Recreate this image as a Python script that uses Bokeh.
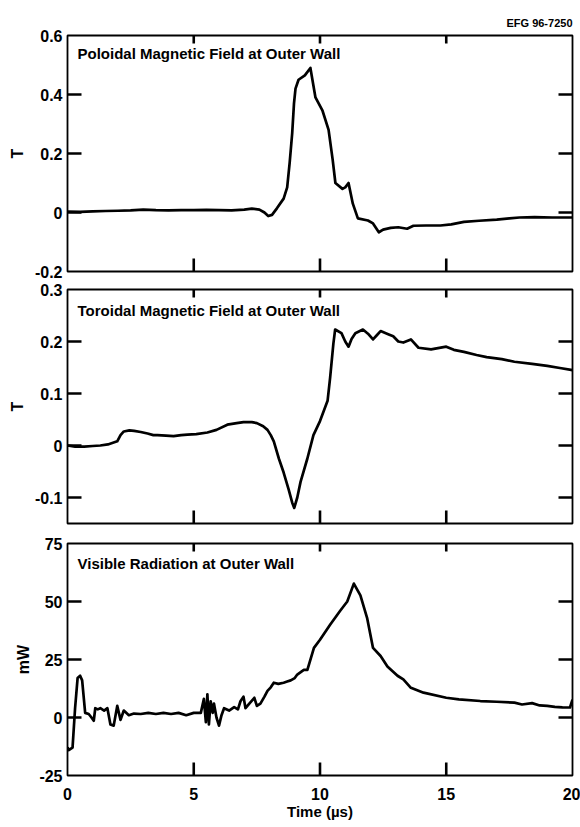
from bokeh.plotting import figure
from bokeh.models import Range1d, FixedTicker, Label
from bokeh.layouts import column
from bokeh.embed import file_html
from bokeh.resources import INLINE

# ---------------- data ----------------
x_lo, x_hi = 0, 20
x_ticks = [0, 5, 10, 15, 20]
x_tick_labels = ["0", "5", "10", "15", "20"]

pol_t = [0, 0.5, 1.0, 1.5, 2.0, 2.5, 3.0, 3.5, 4.0, 4.5, 5.0, 5.5, 6.0, 6.5, 7.0, 7.3, 7.6, 7.8,
         7.95, 8.1, 8.3, 8.56, 8.7, 8.8, 8.9, 8.97, 9.03, 9.15, 9.4, 9.62, 9.82, 10.1, 10.34,
         10.5, 10.61, 10.89, 11.0, 11.13, 11.3, 11.5, 11.9, 12.1, 12.33, 12.5, 12.8, 13.1,
         13.45, 13.7, 14.2, 14.77, 15.2, 15.7, 16.3, 17.0, 17.5, 17.9, 18.5, 19.2, 20.0]
pol_v = [0.003, 0.002, 0.004, 0.005, 0.006, 0.007, 0.01, 0.008, 0.007, 0.008, 0.008, 0.009, 0.008,
         0.007, 0.01, 0.013, 0.01, 0.0, -0.012, -0.008, 0.015, 0.047, 0.085, 0.17, 0.27, 0.37,
         0.42, 0.45, 0.465, 0.49, 0.39, 0.345, 0.28, 0.18, 0.10, 0.08, 0.085, 0.10, 0.03, -0.02,
         -0.027, -0.037, -0.067, -0.058, -0.052, -0.05, -0.055, -0.045, -0.044, -0.044, -0.04,
         -0.032, -0.028, -0.024, -0.02, -0.017, -0.016, -0.017, -0.017]
pol_ticks = [-0.2, 0, 0.2, 0.4, 0.6]
pol_tick_labels = ["-0.2", "0", "0.2", "0.4", "0.6"]

tor_t = [0, 0.3, 0.66, 1.0, 1.3, 1.6, 1.97, 2.1, 2.23, 2.45, 2.64, 2.9, 3.17, 3.4, 3.56, 3.9, 4.2,
         4.5, 4.75, 5.1, 5.54, 5.9, 6.33, 6.7, 6.97, 7.3, 7.5, 7.75, 7.92, 8.05, 8.17, 8.37, 8.56,
         8.76, 8.9, 8.98, 9.1, 9.23, 9.5, 9.74, 10.0, 10.3, 10.4, 10.53, 10.6, 10.85, 11.0, 11.13,
         11.25, 11.4, 11.7, 11.9, 12.1, 12.25, 12.4, 12.7, 12.9, 13.1, 13.3, 13.6, 13.9, 14.4,
         15.0, 15.3, 15.7, 16.2, 16.6, 17.2, 17.7, 18.4, 19.0, 19.5, 20.0]
tor_v = [0.0, -0.002, -0.002, -0.001, 0.0, 0.002, 0.008, 0.02, 0.027, 0.029, 0.028, 0.026, 0.023,
         0.02, 0.02, 0.019, 0.018, 0.02, 0.021, 0.022, 0.025, 0.03, 0.04, 0.043, 0.045, 0.045,
         0.043, 0.037, 0.03, 0.02, 0.008, -0.025, -0.052, -0.085, -0.11, -0.12, -0.1, -0.07,
         -0.025, 0.02, 0.047, 0.086, 0.13, 0.196, 0.223, 0.216, 0.2, 0.19, 0.205, 0.216, 0.223,
         0.215, 0.204, 0.212, 0.22, 0.214, 0.21, 0.2, 0.198, 0.204, 0.188, 0.185, 0.19, 0.184,
         0.18, 0.174, 0.17, 0.166, 0.161, 0.157, 0.153, 0.149, 0.145]
tor_ticks = [-0.1, 0, 0.1, 0.2, 0.3]
tor_tick_labels = ["-0.1", "0", "0.1", "0.2", "0.3"]

vis_t = [0, 0.05, 0.2, 0.3, 0.4, 0.5, 0.58, 0.7, 0.84, 0.95, 1.04, 1.1, 1.2, 1.3, 1.45, 1.58, 1.7,
         1.83, 1.97, 2.1, 2.23, 2.43, 2.63, 2.9, 3.2, 3.5, 3.8, 4.1, 4.4, 4.7, 5.0, 5.28, 5.4,
         5.48, 5.54, 5.6, 5.67, 5.75, 5.8, 5.9, 6.0, 6.1, 6.2, 6.4, 6.6, 6.75, 6.85, 6.97, 7.05,
         7.2, 7.4, 7.5, 7.64, 7.8, 7.92, 8.05, 8.17, 8.35, 8.56, 8.7, 8.84, 9.0, 9.1, 9.36, 9.5,
         9.76, 10.0, 10.4, 10.8, 11.08, 11.34, 11.6, 11.87, 12.1, 12.4, 12.67, 13.07, 13.3, 13.6,
         14.1, 15.0, 15.5, 16.35, 17.0, 17.7, 18.0, 18.4, 18.7, 19.0, 19.3, 19.6, 19.9, 20.0]
vis_v = [-12.8, -14, -13, 4, 17, 18, 16, 2, 1.5, 0, -1.4, 4, 3.5, 4, 3, 4, -3, -3.5, 5, -1, 3, 1,
         1.7, 1.5, 2, 1.5, 2, 1.5, 2, 1, 2, 2, 8, -2, 10, -3, 7, 2, 6, 0, -3.5, 1, 4, 3, 4.5, 3.5,
         7, 9, 4, 6, 8.5, 5, 6, 9, 11.5, 13, 15, 14.5, 15, 15.5, 16, 17, 18.5, 20.5, 20.5, 30,
         33.5, 40, 46, 50, 57.7, 52.6, 42.7, 30, 26.5, 22, 18, 16.4, 12.8, 10.7, 8.5, 7.8, 7.1,
         6.8, 6.4, 5.6, 6.2, 5.2, 5, 4.6, 4.4, 4.3, 7.7]
vis_ticks = [-25, 0, 25, 50, 75]
vis_tick_labels = ["-25", "0", "25", "50", "75"]

assert len(pol_t) == len(pol_v)
assert len(tor_t) == len(tor_v)
assert len(vis_t) == len(vis_v)

FONT = "'Liberation Sans Narrow', 'Arial Narrow', 'Liberation Sans', sans-serif"
FRAME_W = 505  # px, plot-frame width


def labelled_axis(ax, ticks, labels, size="16px", standoff=5):
    ax.ticker = FixedTicker(ticks=ticks)
    ax.major_label_overrides = dict(zip(ticks, labels))
    ax.axis_line_color = None
    ax.major_tick_in = 0
    ax.major_tick_out = 0
    ax.major_tick_line_color = None
    ax.minor_tick_line_color = None
    ax.major_label_text_font = FONT
    ax.major_label_text_font_style = "bold"
    ax.major_label_text_color = "black"
    ax.major_label_text_font_size = size
    ax.major_label_standoff = standoff


def inward_ticks(p, yticks, ylo, yhi, frame_h):
    # tick marks pointing into the frame, drawn as glyphs at the tick values
    dx = 14 * (x_hi - x_lo) / FRAME_W
    dy_b = 13 * (yhi - ylo) / frame_h
    dy_t = 8 * (yhi - ylo) / frame_h
    inner_x = [t for t in x_ticks if x_lo < t < x_hi]
    inner_y = [t for t in yticks if ylo < t < yhi]
    kw = dict(line_color="black", line_width=2.6)
    n, m = len(inner_y), len(inner_x)
    p.segment(x0=[x_lo] * n, y0=inner_y, x1=[x_lo + dx] * n, y1=inner_y, **kw)
    p.segment(x0=[x_hi] * n, y0=inner_y, x1=[x_hi - dx] * n, y1=inner_y, **kw)
    p.segment(x0=inner_x, y0=[ylo] * m, x1=inner_x, y1=[ylo + dy_b] * m, **kw)
    p.segment(x0=inner_x, y0=[yhi] * m, x1=inner_x, y1=[yhi - dy_t] * m, **kw)


def make_panel(t, v, ylo, yhi, yticks, ylabels, ylabel, title, height, top, bottom,
               title_off, ylabel_standoff, last=False):
    p = figure(width=580, height=height, x_range=Range1d(x_lo, x_hi), y_range=Range1d(ylo, yhi),
               output_backend="svg", toolbar_location=None,
               min_border_left=67, min_border_right=8,
               min_border_top=top, min_border_bottom=bottom)
    p.grid.visible = False
    p.outline_line_color = "black"
    p.outline_line_width = 1.8

    yax = p.yaxis[0]
    labelled_axis(yax, yticks, ylabels)
    yax.axis_label = ylabel
    yax.axis_label_text_font = FONT
    yax.axis_label_text_font_style = "bold"
    yax.axis_label_text_font_size = "16px"
    yax.axis_label_text_color = "black"
    yax.axis_label_standoff = ylabel_standoff

    xax = p.xaxis[0]
    if last:
        labelled_axis(xax, x_ticks, x_tick_labels, size="16px", standoff=12)
        xax.axis_label = "Time (µs)"
        xax.axis_label_text_font = FONT
        xax.axis_label_text_font_style = "bold"
        xax.axis_label_text_font_size = "15px"
        xax.axis_label_text_color = "black"
        xax.axis_label_standoff = 0
    else:
        xax.visible = False

    frame_h = height - top - bottom
    inward_ticks(p, yticks, ylo, yhi, frame_h)
    p.line(t, v, line_color="black", line_width=2.7, line_join="round")

    p.add_layout(Label(x=x_lo, y=yhi, x_offset=10, y_offset=title_off, text=title,
                       text_baseline="top", text_font=FONT, text_font_style="bold",
                       text_font_size="15px", text_color="black"))
    return p


p1 = make_panel(pol_t, pol_v, -0.2, 0.6, pol_ticks, pol_tick_labels, "T",
                "Poloidal Magnetic Field at Outer Wall", 280, 35, 9, -9, 6)
p1.title.text = "EFG 96-7250"
p1.title.align = "right"
p1.title.text_font = FONT
p1.title.text_font_style = "bold"
p1.title.text_font_size = "11px"
p1.title.text_color = "black"
p1.title.standoff = 14

p2 = make_panel(tor_t, tor_v, -0.15, 0.3, tor_ticks, tor_tick_labels, "T",
                "Toroidal Magnetic Field at Outer Wall", 253, 9, 10, -12, 6)
p3 = make_panel(vis_t, vis_v, -25, 75, vis_ticks, vis_tick_labels, "mW",
                "Visible Radiation at Outer Wall", 294, 10, 52, -11, 4, last=True)

layout = column(p1, p2, p3, spacing=0)

open("out.html", "w").write(file_html(layout, INLINE))
